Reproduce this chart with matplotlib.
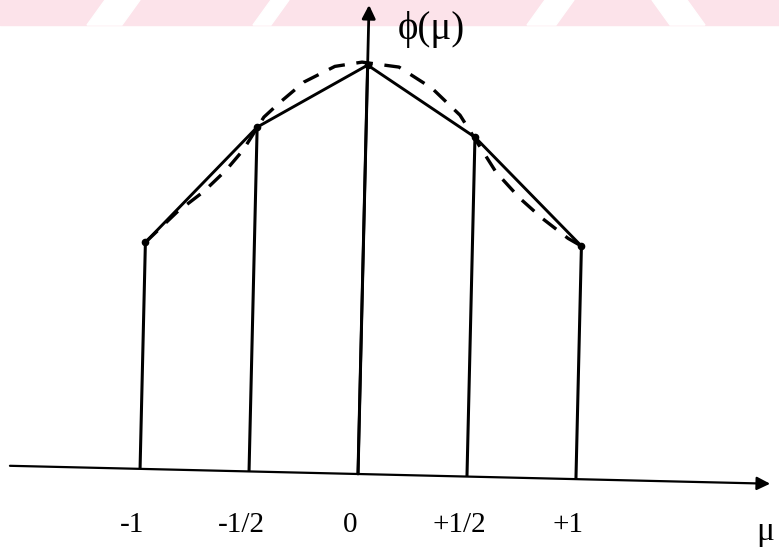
import matplotlib.pyplot as plt
from matplotlib.patches import Polygon, Rectangle
from matplotlib.transforms import Affine2D, offset_copy

# node values of the piecewise-linear approximation
mu_nodes = [-1.0, -0.5, 0.0, 0.5, 1.0]
phi_nodes = [0.554, 0.842, 1.0, 0.830, 0.570]

# the smooth (dashed) function, read point by point
mu_curve = [-1.0, -0.858, -0.737, -0.638, -0.562, -0.470, -0.398, -0.290, -0.150,
            -0.026, 0.144, 0.298, 0.429, 0.600, 0.713, 0.816, 0.938, 1.0]
phi_curve = [0.554, 0.630, 0.682, 0.735, 0.785, 0.867, 0.904, 0.955, 0.995,
             1.007, 0.997, 0.947, 0.883, 0.746, 0.683, 0.636, 0.588, 0.570]

tick_labels = ['-1', '-1/2', '0', '+1/2', '+1']

serif = ['Liberation Serif', 'DejaVu Serif']

fig = plt.figure(figsize=(7.79, 5.49), dpi=100)
ax = fig.add_axes([0, 0, 1, 1])
ax.set_xlim(-1.6422, 1.9312)
ax.set_ylim(-0.18337, 1.15892)
ax.axis('off')

# pink band across the top, kept behind everything
pink = '#fce3ea'
fig.patches.append(Rectangle((0, 524), 779, 25, transform=None, color=pink, zorder=-2))
gaps = [(87, 122, 18), (253, 271, 18), (527, 556, 18), (705, 670, -18)]
for x0, x1, sl in gaps:
    if x0 < x1:
        pts = [(x0, 524), (x1, 524), (x1 + sl, 549), (x0 + sl, 549)]
    else:
        pts = [(x1, 524), (x0, 524), (x0 + sl, 549), (x1 + sl, 549)]
    fig.patches.append(Polygon(pts, closed=True, transform=None, color='white', zorder=-1))

# the whole drawing sits slightly tilted
ox, oy = ax.transData.transform((0, 0))
rot = ax.transData + Affine2D().rotate_deg_around(ox, oy, -1.35)

# axes with arrows
ax.annotate('', xy=(1.891, 0), xytext=(-1.597, 0), xycoords=rot, textcoords=rot,
            annotation_clip=False,
            arrowprops=dict(arrowstyle='-|>', lw=1.6, color='k', mutation_scale=20,
                            shrinkA=0, shrinkB=0))
ax.annotate('', xy=(0, 1.147), xytext=(0, 0), xycoords=rot, textcoords=rot,
            annotation_clip=False,
            arrowprops=dict(arrowstyle='-|>', lw=2.0, color='k', mutation_scale=20,
                            shrinkA=0, shrinkB=0))

ax.vlines(mu_nodes, 0, phi_nodes, colors='k', lw=2.2, transform=rot)
ax.plot(mu_nodes, phi_nodes, color='k', lw=2.1, transform=rot)
ax.plot(mu_nodes, phi_nodes, 'ko', ms=4.5, transform=rot)
ax.plot(mu_curve, phi_curve, color='k', lw=2.4, dashes=(5, 3.5), transform=rot)

# labels
lab_tr = offset_copy(ax.transData, fig=fig, x=-8, y=0, units='dots')
for m, lab in zip(mu_nodes, tick_labels):
    ax.text(m, -0.142, lab, ha='center', va='baseline', fontsize=21,
            family=serif, transform=lab_tr)

ax.text(0.183, 1.0856, 'ϕ(μ)', ha='left', va='center', fontsize=28, family=serif)
ax.text(1.825, -0.161, 'μ', ha='left', va='baseline', fontsize=24, family=serif)

fig.savefig('out.png', dpi=100)
